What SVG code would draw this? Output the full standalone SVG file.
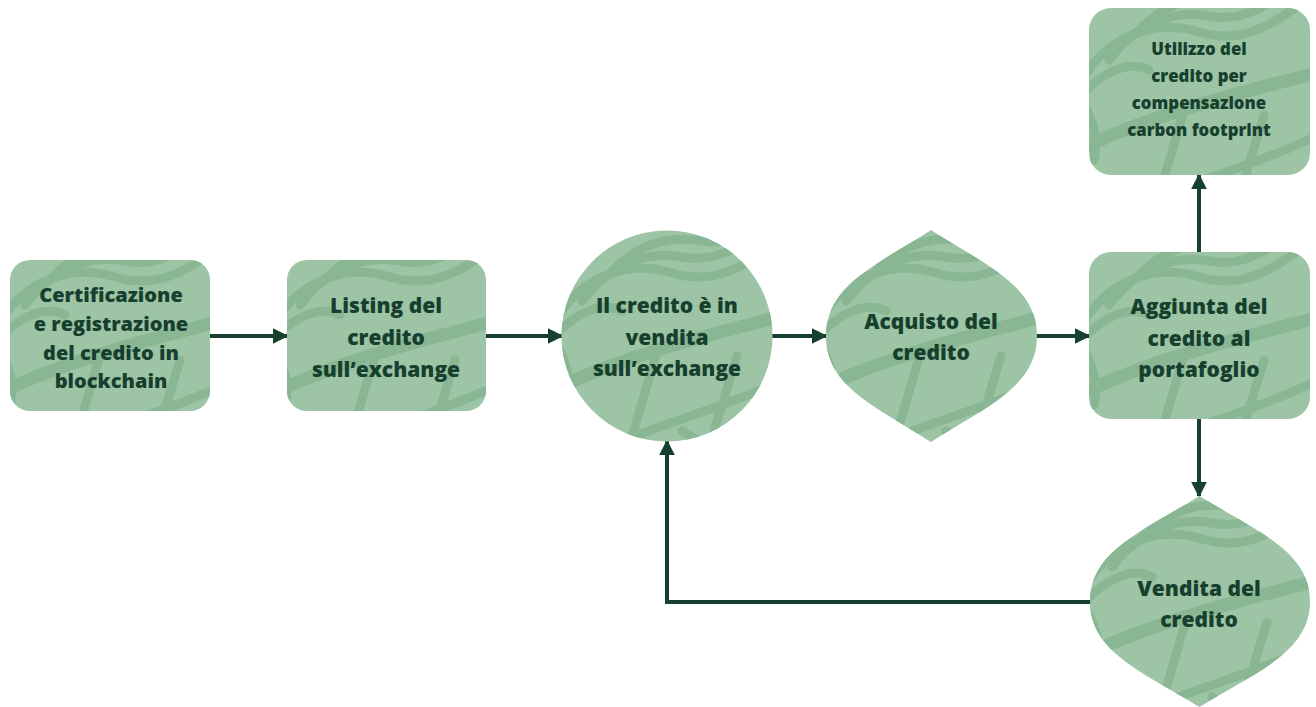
<svg xmlns="http://www.w3.org/2000/svg" xmlns:xlink="http://www.w3.org/1999/xlink" width="1316" height="707" viewBox="0 0 1316 707">
<style>
.bg{fill:#9dc4a5}
.tx path,.tx line{fill:none;stroke:#89b794;stroke-width:9;stroke-linecap:round}
.lb{font-family:"Open Sans","Liberation Sans",sans-serif;font-weight:800;fill:#173f2e;text-anchor:middle}
.cn{fill:none;stroke:#16412f;stroke-width:4}
</style>
<defs>
<marker id="ah" viewBox="0 0 10 10" refX="9" refY="5" markerWidth="4" markerHeight="4" orient="auto" markerUnits="strokeWidth">
<path d="M0,0 L10,5 L0,10 Z" fill="#16412f"/>
</marker>
<g id="tex" class="tx">
<path d="M-10,95 C20,40 70,30 110,42 S180,40 230,0"/>
<path d="M20,70 C50,30 90,20 120,26 S180,20 220,-20"/>
<path d="M50,40 C80,10 110,5 140,10 S190,0 220,-30"/>
<path d="M-20,120 C10,80 40,70 60,80"/>
<path d="M-10,105 C5,130 10,150 5,170"/>
<path d="M-30,110 C-15,130 -12,150 -15,170"/>
<path d="M-10,160 C50,130 120,110 240,80" style="stroke-width:13"/>
<path d="M20,240 C50,200 140,190 240,140"/>
<line x1="60" y1="240" x2="95" y2="120"/>
<line x1="140" y1="240" x2="175" y2="125"/>
<line x1="120" y1="200" x2="200" y2="250"/>
</g>
<clipPath id="c1"><rect x="10" y="260" width="200" height="151" rx="20"/></clipPath>
<clipPath id="c2"><rect x="287" y="260" width="199" height="151" rx="20"/></clipPath>
<clipPath id="c3"><circle cx="667" cy="336" r="105.5"/></clipPath>
<clipPath id="c4"><path d="M931,230 C985,265 1037,285 1037,336 C1037,387 985,407 931,442 C877,407 826,387 826,336 C826,285 877,265 931,230 Z"/></clipPath>
<clipPath id="c5"><rect x="1089" y="252" width="221" height="167" rx="22"/></clipPath>
<clipPath id="c6"><rect x="1089" y="8" width="221" height="167" rx="22"/></clipPath>
<clipPath id="c7"><path d="M1199.5,496 C1256,531 1310,551 1310,601.5 C1310,652 1256,672 1199.5,707 C1143,672 1090,652 1090,601.5 C1090,551 1143,531 1199.5,496 Z"/></clipPath>
</defs>
<rect width="1316" height="707" fill="#ffffff"/>

<g id="connectors">
<line class="cn" x1="210" y1="336" x2="287" y2="336" marker-end="url(#ah)"/>
<line class="cn" x1="486" y1="336" x2="562" y2="336" marker-end="url(#ah)"/>
<line class="cn" x1="772" y1="336" x2="826" y2="336" marker-end="url(#ah)"/>
<line class="cn" x1="1037" y1="336" x2="1089" y2="336" marker-end="url(#ah)"/>
<line class="cn" x1="1199" y1="252" x2="1199" y2="175" marker-end="url(#ah)"/>
<line class="cn" x1="1199" y1="419" x2="1199" y2="496" marker-end="url(#ah)"/>
<polyline class="cn" points="1092,602 667,602 667,441" marker-end="url(#ah)"/>
</g>

<g id="n1">
<g clip-path="url(#c1)"><rect class="bg" x="10" y="260" width="200" height="151"/><use href="#tex" transform="translate(5,235)"/></g>
<text class="lb" font-size="20"><tspan x="111" y="302">Certificazione</tspan><tspan x="111" y="331">e registrazione</tspan><tspan x="111" y="360">del credito in</tspan><tspan x="111" y="388">blockchain</tspan></text>
</g>

<g id="n2">
<g clip-path="url(#c2)"><rect class="bg" x="287" y="260" width="199" height="151"/><use href="#tex" transform="translate(280,235)"/></g>
<text class="lb" font-size="21"><tspan x="386" y="313">Listing del</tspan><tspan x="386" y="345">credito</tspan><tspan x="386" y="377">sull’exchange</tspan></text>
</g>

<g id="n3">
<g clip-path="url(#c3)"><rect class="bg" x="560" y="229" width="215" height="215"/><use href="#tex" transform="translate(562,231)"/></g>
<text class="lb" font-size="21"><tspan x="667" y="313">Il credito è in</tspan><tspan x="667" y="345">vendita</tspan><tspan x="667" y="376">sull’exchange</tspan></text>
</g>

<g id="n4">
<g clip-path="url(#c4)"><rect class="bg" x="824" y="228" width="216" height="216"/><use href="#tex" transform="translate(826,231)"/></g>
<text class="lb" font-size="21"><tspan x="931" y="329">Acquisto del</tspan><tspan x="931" y="360">credito</tspan></text>
</g>

<g id="n5">
<g clip-path="url(#c5)"><rect class="bg" x="1089" y="252" width="221" height="167"/><use href="#tex" transform="translate(1089,235)"/></g>
<text class="lb" font-size="21"><tspan x="1199" y="314">Aggiunta del</tspan><tspan x="1199" y="346">credito al</tspan><tspan x="1199" y="377">portafoglio</tspan></text>
</g>

<g id="n6">
<g clip-path="url(#c6)"><rect class="bg" x="1089" y="8" width="221" height="167"/><use href="#tex" transform="translate(1089,-10)"/></g>
<text class="lb" font-size="16.8"><tspan x="1199" y="55">Utilizzo del</tspan><tspan x="1199" y="82">credito per</tspan><tspan x="1199" y="109">compensazione</tspan><tspan x="1199" y="136">carbon footprint</tspan></text>
</g>

<g id="n7">
<g clip-path="url(#c7)"><rect class="bg" x="1088" y="494" width="224" height="215"/><use href="#tex" transform="translate(1092,497)"/></g>
<text class="lb" font-size="21"><tspan x="1199" y="596">Vendita del</tspan><tspan x="1199" y="627">credito</tspan></text>
</g>
</svg>
